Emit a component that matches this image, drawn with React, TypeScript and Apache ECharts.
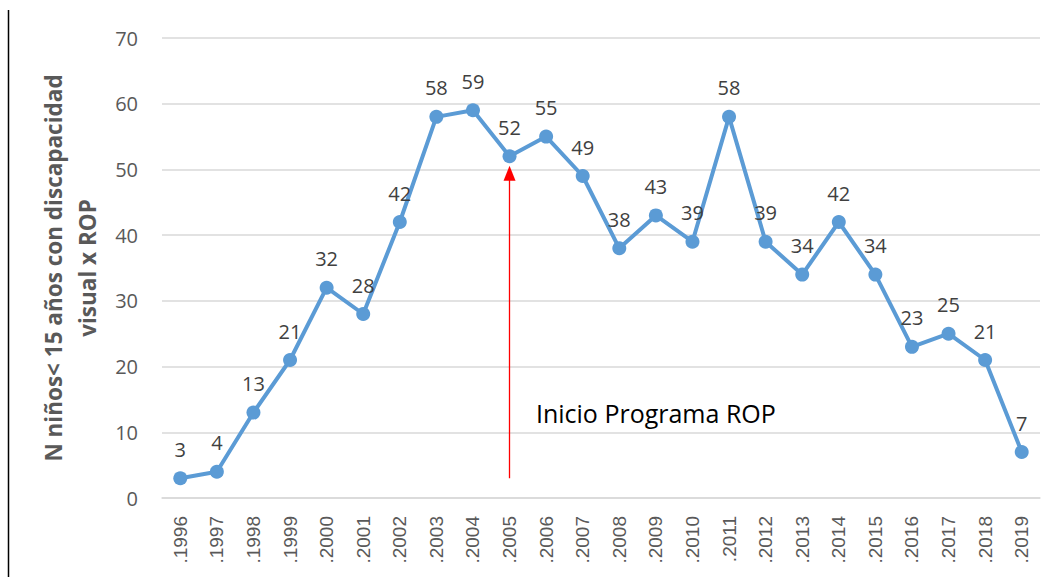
import React, { useEffect, useRef } from "react";
import * as echarts from "echarts";

const years = ["1996","1997","1998","1999","2000","2001","2002","2003","2004","2005","2006","2007","2008","2009","2010","2011","2012","2013","2014","2015","2016","2017","2018","2019"];
const yearLabels = years.map((y) => "." + y);
const values = [3, 4, 13, 21, 32, 28, 42, 58, 59, 52, 55, 49, 38, 43, 39, 58, 39, 34, 42, 34, 23, 25, 21, 7];
const arrowYear = "2005";
const arrowFrom = 3;
const arrowTo = 49.4;
const noteText = "Inicio Programa ROP";
const noteYear = "2009";
const noteValue = 13;
const yTitle = "N niños< 15 años con discapacidad\nvisual x ROP";

export default function App() {
  const ref = useRef<HTMLDivElement>(null);
  useEffect(() => {
    const chart = echarts.init(ref.current!, null, { renderer: "svg" });
    const arrowCat = yearLabels[years.indexOf(arrowYear)];
    const noteCat = yearLabels[years.indexOf(noteYear)];
    chart.setOption({
      animation: false,
      backgroundColor: "#ffffff",
      textStyle: { fontFamily: "Open Sans" },
      grid: { left: 162, right: 17, top: 38, bottom: 79 },
      graphic: [
        { type: "line", shape: { x1: 8.5, y1: 10, x2: 8.5, y2: 577 }, style: { stroke: "#000", lineWidth: 1.5 } },
      ],
      xAxis: {
        type: "category",
        data: yearLabels,
        boundaryGap: true,
        axisLine: { lineStyle: { color: "#D9D9D9", width: 1.5 } },
        axisTick: { show: false },
        axisLabel: { rotate: 90, color: "#595959", fontSize: 19, fontFamily: "Liberation Sans", margin: 18 },
      },
      yAxis: {
        type: "value",
        min: 0,
        max: 70,
        interval: 10,
        name: yTitle,
        nameLocation: "middle",
        nameRotate: 90,
        nameGap: 51,
        nameTextStyle: { color: "#595959", fontSize: 22.5, fontWeight: "bold", fontFamily: "Open Sans", lineHeight: 34 },
        axisLine: { show: false },
        axisTick: { show: false },
        splitLine: { lineStyle: { color: "#D9D9D9", width: 1.5 } },
        axisLabel: { color: "#595959", fontSize: 20, margin: 24 },
      },
      series: [
        {
          type: "line",
          data: values,
          symbol: "circle",
          symbolSize: 14,
          itemStyle: { color: "#5B9BD5" },
          lineStyle: { color: "#5B9BD5", width: 4 },
          label: { show: true, position: "top", distance: 12, color: "#404040", fontSize: 20 },
          markLine: {
            silent: true,
            symbol: ["none", "triangle"],
            symbolSize: [12, 15],
            precision: 1,
            label: { show: false },
            itemStyle: { color: "#FF0000" },
            lineStyle: { color: "#FF0000", width: 1.3, type: "solid", opacity: 1 },
            emphasis: { disabled: true },
            data: [[{ coord: [arrowCat, arrowFrom] }, { coord: [arrowCat, arrowTo] }]],
          },
          markPoint: {
            silent: true,
            symbol: "circle",
            symbolSize: 0,
            label: { show: true, formatter: noteText, color: "#000", fontSize: 25, position: "inside" },
            data: [{ coord: [noteCat, noteValue] }],
          },
        },
      ],
    });
    return () => chart.dispose();
  }, []);
  return <div ref={ref} style={{ position: "fixed", left: 0, top: 0, width: 1057, height: 577 }} />;
}
